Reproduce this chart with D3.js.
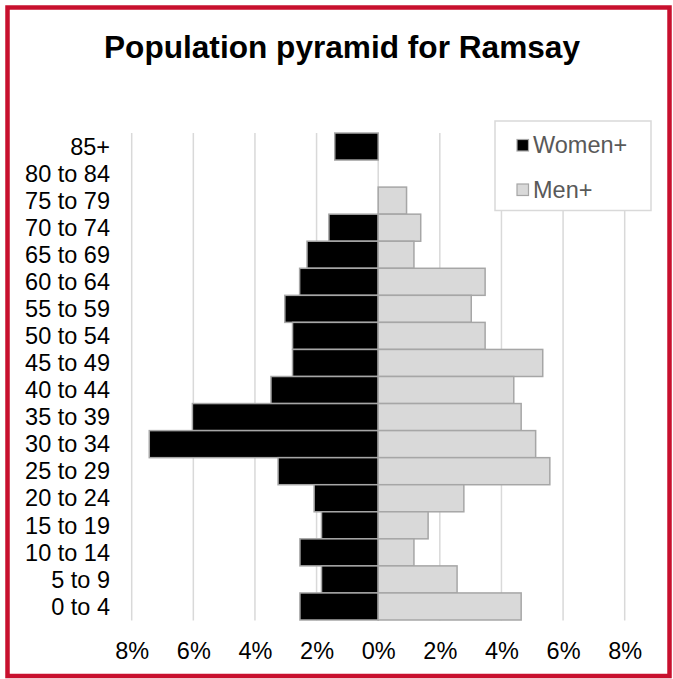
<!DOCTYPE html>
<html>
<head>
<meta charset="utf-8">
<script src="https://cdn.jsdelivr.net/npm/d3@7"></script>
<style>
  html, body { margin: 0; padding: 0; background: #fff; }
  svg { display: block; font-family: "Liberation Sans", Arial, sans-serif; }
</style>
</head>
<body>
<svg id="chart" width="673" height="679"></svg>
<script>
const title = "Population pyramid for Ramsay";
const ageGroups = ["85+", "80 to 84", "75 to 79", "70 to 74", "65 to 69", "60 to 64", "55 to 59",
  "50 to 54", "45 to 49", "40 to 44", "35 to 39", "30 to 34", "25 to 29", "20 to 24",
  "15 to 19", "10 to 14", "5 to 9", "0 to 4"];
const women = [1.41, 0, 0, 1.6, 2.31, 2.55, 3.03, 2.78, 2.78, 3.48, 6.03, 7.43, 3.25, 2.08, 1.84, 2.54, 1.84, 2.54];
const men = [0, 0, 0.92, 1.38, 1.16, 3.47, 3.02, 3.47, 5.34, 4.40, 4.64, 5.11, 5.57, 2.78, 1.62, 1.16, 2.56, 4.64];
const tickValues = [-8, -6, -4, -2, 0, 2, 4, 6, 8];
const seriesNames = ["Women+", "Men+"];
const seriesColors = ["#000000", "#d9d9d9"];

const svg = d3.select("#chart");

// Outer red frame
svg.append("rect")
  .attr("x", 7.5).attr("y", 7.5)
  .attr("width", 662).attr("height", 668.5)
  .attr("fill", "#fff")
  .attr("stroke", "#c8102e")
  .attr("stroke-width", 4.5);

// Title
svg.append("text")
  .attr("x", 342).attr("y", 58)
  .attr("text-anchor", "middle")
  .attr("font-weight", "bold")
  .attr("font-size", 30.5)
  .attr("textLength", 476)
  .attr("lengthAdjust", "spacingAndGlyphs")
  .attr("fill", "#000")
  .text(title);

const x = d3.scaleLinear().domain([-8, 8]).range([131.7, 624.7]);
const y = d3.scaleBand().domain(ageGroups).range([133, 620]).padding(0);

// Gridlines
svg.append("g")
  .selectAll("line")
  .data(tickValues)
  .join("line")
  .attr("x1", d => x(d)).attr("x2", d => x(d))
  .attr("y1", 133).attr("y2", 620.5)
  .attr("stroke", "#d9d9d9")
  .attr("stroke-width", 1.5);

// Bars
const rows = ageGroups.map((g, i) => ({ g, w: women[i], m: men[i] }));
const bars = svg.append("g");
bars.selectAll("rect.w")
  .data(rows.filter(d => d.w > 0))
  .join("rect")
  .attr("class", "w")
  .attr("x", d => x(-d.w))
  .attr("y", d => y(d.g))
  .attr("width", d => x(0) - x(-d.w))
  .attr("height", y.bandwidth())
  .attr("fill", seriesColors[0])
  .attr("stroke", "#a6a6a6")
  .attr("stroke-width", 1.5);
bars.selectAll("rect.m")
  .data(rows.filter(d => d.m > 0))
  .join("rect")
  .attr("class", "m")
  .attr("x", x(0))
  .attr("y", d => y(d.g))
  .attr("width", d => x(d.m) - x(0))
  .attr("height", y.bandwidth())
  .attr("fill", seriesColors[1])
  .attr("stroke", "#a6a6a6")
  .attr("stroke-width", 1.5);

// Category labels
svg.append("g")
  .selectAll("text")
  .data(ageGroups)
  .join("text")
  .attr("x", 110)
  .attr("y", d => y(d) + y.bandwidth() / 2)
  .attr("dy", "0.35em")
  .attr("text-anchor", "end")
  .attr("font-size", 23.5)
  .attr("fill", "#000")
  .text(d => d);

// Bottom tick labels via axis
const fmt = d => Math.abs(d) + "%";
const xAxis = d3.axisBottom(x).tickValues(tickValues).tickFormat(fmt).tickSize(0).tickPadding(0);
const ax = svg.append("g").attr("transform", "translate(0,642)").call(xAxis);
ax.select(".domain").remove();
ax.selectAll("text")
  .attr("font-size", 23.5)
  .attr("font-family", "'Liberation Sans', Arial, sans-serif")
  .attr("fill", "#000")
  .attr("dy", "0.72em");

// Legend
const lg = svg.append("g");
lg.append("rect")
  .attr("x", 495).attr("y", 121)
  .attr("width", 156).attr("height", 89.5)
  .attr("fill", "#fff")
  .attr("stroke", "#d9d9d9")
  .attr("stroke-width", 1.5);
const legendY = [145, 189.5];
seriesNames.forEach((name, i) => {
  lg.append("rect")
    .attr("x", 517).attr("y", legendY[i] - 5.5)
    .attr("width", 11.5).attr("height", 11.5)
    .attr("fill", seriesColors[i])
    .attr("stroke", "#a6a6a6")
    .attr("stroke-width", 1.2);
  lg.append("text")
    .attr("x", 533)
    .attr("y", legendY[i])
    .attr("dy", "0.35em")
    .attr("font-size", 23.5)
    .attr("fill", "#595959")
    .text(name);
});
</script>
</body>
</html>
